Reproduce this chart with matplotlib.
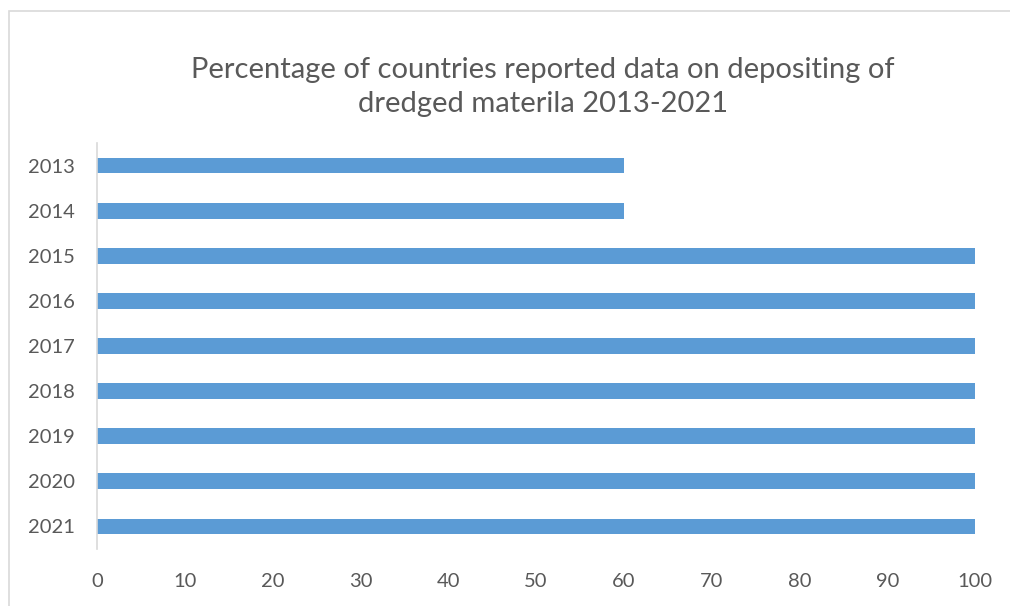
import matplotlib.pyplot as plt
from matplotlib.patches import Rectangle

years = ["2013", "2014", "2015", "2016", "2017", "2018", "2019", "2020", "2021"]
percent = [60, 60, 100, 100, 100, 100, 100, 100, 100]
xticks = [0, 10, 20, 30, 40, 50, 60, 70, 80, 90, 100]

plt.rcParams['font.family'] = ['Lato', 'DejaVu Sans']
txt = "#595959"

fig = plt.figure(figsize=(10.1, 6.06), dpi=100)
# chart area border (runs off the right/bottom edges like the screenshot)
fig.patches.append(Rectangle((9/1010, -0.05), 1.05, 1 - 11/606 + 0.05,
                             transform=fig.transFigure, fill=False,
                             edgecolor="#D9D9D9", linewidth=1.2))

ax = fig.add_axes([97/1010, 1 - 549/606, (975 - 97)/1010, (549 - 143)/606])
pos = list(range(len(years)))
ax.barh(pos, percent, height=0.35, color="#5B9BD5")
ax.set_ylim(len(years) - 0.5, -0.5)
ax.set_xlim(0, 100)
ax.set_yticks(pos)
ax.set_yticklabels(years)
ax.set_xticks(xticks)

for s in ["top", "right", "bottom"]:
    ax.spines[s].set_visible(False)
ax.spines["left"].set_color("#D9D9D9")
ax.spines["left"].set_linewidth(1.2)
ax.tick_params(axis="both", length=0, labelsize=14.5, colors=txt)
ax.tick_params(axis="x", pad=17)
ax.tick_params(axis="y", pad=16)

fig.text(543/1010, 1 - 87/606,
         "Percentage of countries reported data on depositing of\ndredged materila 2013-2021",
         ha="center", va="center", fontsize=21, color=txt, linespacing=1.35)

fig.savefig("out.png", dpi=100)
